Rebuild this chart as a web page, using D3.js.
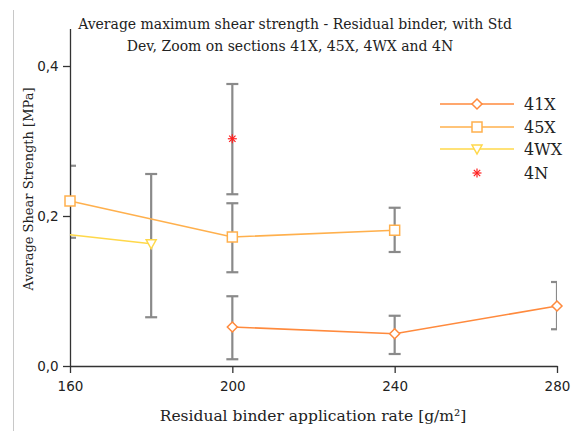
<!DOCTYPE html>
<html>
<head>
<meta charset="utf-8">
<script src="https://cdn.jsdelivr.net/npm/d3@7"></script>
<style>
  body { margin: 0; background: #fff; }
  svg { display: block; }
</style>
</head>
<body>
<div id="chart-area"></div>
<script>
// chart values
const yTicks = [0, 0.2, 0.4];
const xTicks = [160, 200, 240, 280];

// [rate, mean, lower, upper]
const s41X = [[200, 0.052, 0.009, 0.093], [240, 0.043, 0.016, 0.067], [280, 0.080, 0.049, 0.112]];
const s45X = [[160, 0.220, 0.171, 0.267], [200, 0.172, 0.125, 0.217], [240, 0.181, 0.152, 0.211]];
const s4WX = [[160, 0.175, null, null], [180, 0.163, 0.065, 0.256]];
const s4N = [[200, 0.303, 0.229, 0.376]];

const seriesNames = ["41X", "45X", "4WX", "4N"];
const seriesColors = ["#ff8a3d", "#ffb04d", "#ffd84a", "#ff1f1f"];

const width = 571, height = 431;

const svg = d3.select("#chart-area").append("svg")
  .attr("width", width).attr("height", height);

// thin frame line on the left
svg.append("line")
  .attr("x1", 13.5).attr("x2", 13.5).attr("y1", 10).attr("y2", height)
  .attr("stroke", "#c8c8c8").attr("stroke-width", 1);

let x = d3.scaleLinear().domain([160, 280]).range([70, 557]);
let y = d3.scaleLinear().domain([0, 0.45]).range([366, 28.5]);

// clip for error bars (they get cut at the plot edges)
svg.append("clipPath").attr("id", "plotclip")
  .append("rect").attr("x", 70).attr("y", 0).attr("width", 487).attr("height", height);

// error bars
const plotData = [s41X, s45X, s4WX, s4N];
const cap = 6;
let bars = svg.append("g").attr("clip-path", "url(#plotclip)")
  .attr("stroke", "#8a8a8a").attr("stroke-width", 2.2);
plotData.forEach(s => {
  s.filter(d => d[2] != null).forEach(d => {
    bars.append("line").attr("x1", x(d[0])).attr("x2", x(d[0])).attr("y1", y(d[2])).attr("y2", y(d[3]));
    bars.append("line").attr("x1", x(d[0]) - cap).attr("x2", x(d[0]) + cap).attr("y1", y(d[2])).attr("y2", y(d[2]));
    bars.append("line").attr("x1", x(d[0]) - cap).attr("x2", x(d[0]) + cap).attr("y1", y(d[3])).attr("y2", y(d[3]));
  });
});

// axes
let xAxis = d3.axisBottom(x).tickValues(xTicks).tickSize(7).tickSizeOuter(0).tickFormat(d3.format("d"));
let yAxis = d3.axisLeft(y).tickValues(yTicks).tickSize(7).tickSizeOuter(0)
  .tickFormat(d => d3.format(".1f")(d).replace(".", ","));

let gx = svg.append("g").attr("transform", "translate(0,366)").call(xAxis);
gx.selectAll("text").attr("dy", "1.1em");
let gy = svg.append("g").attr("transform", "translate(70,0)").call(yAxis);
gy.selectAll("text").attr("dx", "-0.1em");

[gx, gy].forEach(g => {
  g.select(".domain").attr("stroke", "#333").attr("stroke-width", 1.3);
  g.selectAll(".tick line").attr("stroke", "#333").attr("stroke-width", 1.3);
  g.selectAll("text").attr("font-family", "DejaVu Sans").attr("font-size", 13.5).attr("fill", "#222");
});

let line = d3.line().x(d => x(d[0])).y(d => y(d[1]));

function marker(g, type, cx, cy, color) {
  if (type == "diamond") {
    g.append("path").attr("d", `M${cx},${cy - 5}L${cx + 5},${cy}L${cx},${cy + 5}L${cx - 5},${cy}Z`)
      .attr("fill", "#fff").attr("stroke", color).attr("stroke-width", 1.5);
  } else if (type == "square") {
    g.append("rect").attr("x", cx - 5).attr("y", cy - 5).attr("width", 10).attr("height", 10)
      .attr("fill", "#fff").attr("stroke", color).attr("stroke-width", 1.5);
  } else if (type == "triangle") {
    g.append("path").attr("d", `M${cx - 5},${cy - 4}L${cx + 5},${cy - 4}L${cx},${cy + 5}Z`)
      .attr("fill", "#fff").attr("stroke", color).attr("stroke-width", 1.5);
  } else if (type == "star") {
    for (let a = 0; a < 180; a += 45) {
      let r = a * Math.PI / 180;
      g.append("line")
        .attr("x1", cx - 4.5 * Math.cos(r)).attr("y1", cy - 4.5 * Math.sin(r))
        .attr("x2", cx + 4.5 * Math.cos(r)).attr("y2", cy + 4.5 * Math.sin(r))
        .attr("stroke", color).attr("stroke-width", 1.2);
    }
  }
}

const markerTypes = ["diamond", "square", "triangle", "star"];
let plot = svg.append("g");

plotData.forEach((s, i) => {
  if (i < 3) {
    plot.append("path").datum(s).attr("d", line)
      .attr("fill", "none").attr("stroke", seriesColors[i]).attr("stroke-width", 1.6);
  }
});
plotData.forEach((s, i) => {
  s.forEach(d => {
    if (i == 2 && d[0] == 160) return; // 4WX marker at 160 not drawn
    marker(plot, markerTypes[i], x(d[0]), y(d[1]), seriesColors[i]);
  });
});

// legend
const legendY = [104, 127, 149, 173];
seriesNames.forEach((name, i) => {
  let g = svg.append("g");
  if (i < 3) {
    g.append("line").attr("x1", 440).attr("x2", 514).attr("y1", legendY[i]).attr("y2", legendY[i])
      .attr("stroke", seriesColors[i]).attr("stroke-width", 1.6);
  }
  marker(g, markerTypes[i], 477, legendY[i], seriesColors[i]);
  g.append("text").attr("x", 524).attr("y", legendY[i]).attr("dy", "0.36em")
    .attr("font-family", "DejaVu Serif").attr("font-size", 16).attr("fill", "#222")
    .text(name);
});

// title
svg.append("text").attr("x", 295).attr("y", 29).attr("text-anchor", "middle")
  .attr("font-family", "DejaVu Serif").attr("font-size", 14).attr("fill", "#222")
  .text("Average maximum shear strength - Residual binder, with Std");
svg.append("text").attr("x", 290).attr("y", 51).attr("text-anchor", "middle")
  .attr("font-family", "DejaVu Serif").attr("font-size", 14).attr("fill", "#222")
  .text("Dev, Zoom on sections 41X, 45X, 4WX and 4N");

// axis labels
svg.append("text").attr("x", 313).attr("y", 421).attr("text-anchor", "middle")
  .attr("font-family", "DejaVu Serif").attr("font-size", 15.5).attr("fill", "#222")
  .text("Residual binder application rate [g/m²]");

svg.append("text").attr("transform", "rotate(-90)")
  .attr("x", -189).attr("y", 33).attr("text-anchor", "middle")
  .attr("font-family", "DejaVu Serif").attr("font-size", 13).attr("fill", "#222")
  .text("Average Shear Strength [MPa]");
</script>
</body>
</html>
